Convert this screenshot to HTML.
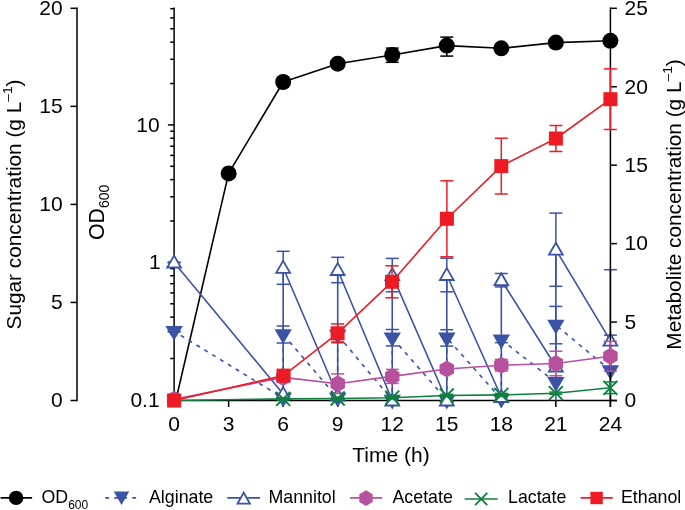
<!DOCTYPE html><html><head><meta charset="utf-8"><style>html,body{margin:0;padding:0;background:#fff;overflow:hidden}svg{display:block;will-change:transform}text{font-family:"Liberation Sans", sans-serif}</style></head><body>
<svg width="685" height="510" viewBox="0 0 685 510">
<rect width="685" height="510" fill="#fff"/>
<path d="M77 7.55V401.25" stroke="#000" stroke-width="1.5"/>
<path d="M70.5 400.5H77" stroke="#000" stroke-width="1.5"/>
<text x="62.6" y="407.3" font-size="21" text-anchor="end">0</text>
<path d="M70.5 302.45H77" stroke="#000" stroke-width="1.5"/>
<text x="62.6" y="309.25" font-size="21" text-anchor="end">5</text>
<path d="M70.5 204.4H77" stroke="#000" stroke-width="1.5"/>
<text x="62.6" y="211.2" font-size="21" text-anchor="end">10</text>
<path d="M70.5 106.35H77" stroke="#000" stroke-width="1.5"/>
<text x="62.6" y="113.15" font-size="21" text-anchor="end">15</text>
<path d="M70.5 8.3H77" stroke="#000" stroke-width="1.5"/>
<text x="62.6" y="15.1" font-size="21" text-anchor="end">20</text>
<path d="M174.1 7.55V401.25" stroke="#000" stroke-width="1.5"/>
<path d="M167.9 399.9H174.1" stroke="#000" stroke-width="1.5"/>
<path d="M170.2 358.51H174.1" stroke="#000" stroke-width="1.5"/>
<path d="M170.2 334.3H174.1" stroke="#000" stroke-width="1.5"/>
<path d="M170.2 317.12H174.1" stroke="#000" stroke-width="1.5"/>
<path d="M170.2 303.79H174.1" stroke="#000" stroke-width="1.5"/>
<path d="M170.2 292.9H174.1" stroke="#000" stroke-width="1.5"/>
<path d="M170.2 283.7H174.1" stroke="#000" stroke-width="1.5"/>
<path d="M170.2 275.73H174.1" stroke="#000" stroke-width="1.5"/>
<path d="M170.2 268.69H174.1" stroke="#000" stroke-width="1.5"/>
<path d="M167.9 262.4H174.1" stroke="#000" stroke-width="1.5"/>
<path d="M170.2 221.01H174.1" stroke="#000" stroke-width="1.5"/>
<path d="M170.2 196.8H174.1" stroke="#000" stroke-width="1.5"/>
<path d="M170.2 179.62H174.1" stroke="#000" stroke-width="1.5"/>
<path d="M170.2 166.29H174.1" stroke="#000" stroke-width="1.5"/>
<path d="M170.2 155.4H174.1" stroke="#000" stroke-width="1.5"/>
<path d="M170.2 146.2H174.1" stroke="#000" stroke-width="1.5"/>
<path d="M170.2 138.23H174.1" stroke="#000" stroke-width="1.5"/>
<path d="M170.2 131.19H174.1" stroke="#000" stroke-width="1.5"/>
<path d="M167.9 124.9H174.1" stroke="#000" stroke-width="1.5"/>
<path d="M170.2 83.51H174.1" stroke="#000" stroke-width="1.5"/>
<path d="M170.2 59.3H174.1" stroke="#000" stroke-width="1.5"/>
<path d="M170.2 42.12H174.1" stroke="#000" stroke-width="1.5"/>
<path d="M170.2 28.79H174.1" stroke="#000" stroke-width="1.5"/>
<path d="M170.2 17.9H174.1" stroke="#000" stroke-width="1.5"/>
<path d="M170.2 8.7H174.1" stroke="#000" stroke-width="1.5"/>
<text x="159.6" y="406.7" font-size="21" text-anchor="end">0.1</text>
<text x="160.6" y="269.2" font-size="21" text-anchor="end">1</text>
<text x="159.6" y="131.7" font-size="21" text-anchor="end">10</text>
<path d="M174.1 400.5H616.9" stroke="#000" stroke-width="1.5"/>
<path d="M174.1 400.5V407" stroke="#000" stroke-width="1.5"/>
<text x="174.1" y="431" font-size="21" text-anchor="middle">0</text>
<path d="M228.64 400.5V407" stroke="#000" stroke-width="1.5"/>
<text x="228.64" y="431" font-size="21" text-anchor="middle">3</text>
<path d="M283.17 400.5V407" stroke="#000" stroke-width="1.5"/>
<text x="283.17" y="431" font-size="21" text-anchor="middle">6</text>
<path d="M337.71 400.5V407" stroke="#000" stroke-width="1.5"/>
<text x="337.71" y="431" font-size="21" text-anchor="middle">9</text>
<path d="M392.25 400.5V407" stroke="#000" stroke-width="1.5"/>
<text x="392.25" y="431" font-size="21" text-anchor="middle">12</text>
<path d="M446.79 400.5V407" stroke="#000" stroke-width="1.5"/>
<text x="446.79" y="431" font-size="21" text-anchor="middle">15</text>
<path d="M501.32 400.5V407" stroke="#000" stroke-width="1.5"/>
<text x="501.32" y="431" font-size="21" text-anchor="middle">18</text>
<path d="M555.86 400.5V407" stroke="#000" stroke-width="1.5"/>
<text x="555.86" y="431" font-size="21" text-anchor="middle">21</text>
<path d="M610.4 400.5V407" stroke="#000" stroke-width="1.5"/>
<text x="610.4" y="431" font-size="21" text-anchor="middle">24</text>
<text x="391" y="462.3" font-size="21" text-anchor="middle">Time (h)</text>
<text transform="translate(20.8,204.5) rotate(-90)" font-size="20.8" text-anchor="middle">Sugar concentration (g L<tspan font-size="13.7" dy="-8.8">–1</tspan><tspan dy="8.8">)</tspan></text>
<text transform="translate(104.2,240) rotate(-90)" font-size="21.3">OD<tspan font-size="14" dy="5">600</tspan></text>
<text transform="translate(680.5,204.5) rotate(-90)" font-size="20.8" text-anchor="middle">Metabolite concentration (g L<tspan font-size="13.7" dy="-8.8">–1</tspan><tspan dy="8.8">)</tspan></text>
<polyline points="175.8,400.5 228.64,173.4 283.17,82 337.71,63.7 392.25,55 446.79,45.6 501.32,48.3 555.86,42.6 610.4,40.8" fill="none" stroke="#000" stroke-width="1.6" stroke-linejoin="round"/>
<path d="M392.25 48.1V62.3" stroke="#000" stroke-width="1.5"/><path d="M385.75 48.1H398.75" stroke="#000" stroke-width="1.5"/><path d="M385.75 62.3H398.75" stroke="#000" stroke-width="1.5"/>
<path d="M446.79 37.1V56.1" stroke="#000" stroke-width="1.5"/><path d="M440.29 37.1H453.29" stroke="#000" stroke-width="1.5"/><path d="M440.29 56.1H453.29" stroke="#000" stroke-width="1.5"/>
<circle cx="228.64" cy="173.4" r="8" fill="#000"/>
<circle cx="283.17" cy="82" r="8" fill="#000"/>
<circle cx="337.71" cy="63.7" r="8" fill="#000"/>
<circle cx="392.25" cy="55" r="8" fill="#000"/>
<circle cx="446.79" cy="45.6" r="8" fill="#000"/>
<circle cx="501.32" cy="48.3" r="8" fill="#000"/>
<circle cx="555.86" cy="42.6" r="8" fill="#000"/>
<circle cx="610.4" cy="40.8" r="8" fill="#000"/>
<polyline points="174.1,262.5 283.17,394 283.17,267.8 337.71,395.5 337.71,270 392.25,400.5 392.25,275.1 446.79,400.5 446.79,275 501.32,397 501.32,280.2 555.86,366.5 555.86,249.7 610.4,340.7" fill="none" stroke="#3a53a4" stroke-width="1.6" stroke-linejoin="round"/>
<polyline points="174.1,331.3 283.17,398 283.17,334.5 337.71,398 337.71,335 392.25,400 392.25,337.7 446.79,400 446.79,337.9 501.32,399 501.32,339.7 555.86,382.4 555.86,325.1 610.4,370.5" fill="none" stroke="#3a53a4" stroke-width="1.6" stroke-linejoin="round" stroke-dasharray="4 5.2" stroke-dashoffset="1.4"/>
<path d="M174.1 262.2V262.8" stroke="#3a53a4" stroke-width="1.5"/><path d="M167.6 262.2H180.6" stroke="#3a53a4" stroke-width="1.5"/><path d="M167.6 262.8H180.6" stroke="#3a53a4" stroke-width="1.5"/>
<path d="M283.17 251.3V284.3" stroke="#3a53a4" stroke-width="1.5"/><path d="M276.67 251.3H289.67" stroke="#3a53a4" stroke-width="1.5"/><path d="M276.67 284.3H289.67" stroke="#3a53a4" stroke-width="1.5"/>
<path d="M337.71 257.3V282.7" stroke="#3a53a4" stroke-width="1.5"/><path d="M331.21 257.3H344.21" stroke="#3a53a4" stroke-width="1.5"/><path d="M331.21 282.7H344.21" stroke="#3a53a4" stroke-width="1.5"/>
<path d="M392.25 258.4V291.8" stroke="#3a53a4" stroke-width="1.5"/><path d="M385.75 258.4H398.75" stroke="#3a53a4" stroke-width="1.5"/><path d="M385.75 291.8H398.75" stroke="#3a53a4" stroke-width="1.5"/>
<path d="M446.79 258.2V291.8" stroke="#3a53a4" stroke-width="1.5"/><path d="M440.29 258.2H453.29" stroke="#3a53a4" stroke-width="1.5"/><path d="M440.29 291.8H453.29" stroke="#3a53a4" stroke-width="1.5"/>
<path d="M501.32 273.5V286.9" stroke="#3a53a4" stroke-width="1.5"/><path d="M494.82 273.5H507.82" stroke="#3a53a4" stroke-width="1.5"/><path d="M494.82 286.9H507.82" stroke="#3a53a4" stroke-width="1.5"/>
<path d="M555.86 213.1V286.3" stroke="#3a53a4" stroke-width="1.5"/><path d="M549.36 213.1H562.36" stroke="#3a53a4" stroke-width="1.5"/><path d="M549.36 286.3H562.36" stroke="#3a53a4" stroke-width="1.5"/>
<path d="M610.4 269.7V400.5" stroke="#3a53a4" stroke-width="1.5"/><path d="M603.9 269.7H616.9" stroke="#3a53a4" stroke-width="1.5"/>
<path d="M174.1 331.1V332.1" stroke="#3a53a4" stroke-width="1.5"/><path d="M167.6 331.1H180.6" stroke="#3a53a4" stroke-width="1.5"/><path d="M167.6 332.1H180.6" stroke="#3a53a4" stroke-width="1.5"/>
<path d="M283.17 326V343" stroke="#3a53a4" stroke-width="1.5"/><path d="M276.67 326H289.67" stroke="#3a53a4" stroke-width="1.5"/><path d="M276.67 343H289.67" stroke="#3a53a4" stroke-width="1.5"/>
<path d="M337.71 328V342" stroke="#3a53a4" stroke-width="1.5"/><path d="M331.21 328H344.21" stroke="#3a53a4" stroke-width="1.5"/><path d="M331.21 342H344.21" stroke="#3a53a4" stroke-width="1.5"/>
<path d="M392.25 329.5V345.9" stroke="#3a53a4" stroke-width="1.5"/><path d="M385.75 329.5H398.75" stroke="#3a53a4" stroke-width="1.5"/><path d="M385.75 345.9H398.75" stroke="#3a53a4" stroke-width="1.5"/>
<path d="M446.79 329.7V346.1" stroke="#3a53a4" stroke-width="1.5"/><path d="M440.29 329.7H453.29" stroke="#3a53a4" stroke-width="1.5"/><path d="M440.29 346.1H453.29" stroke="#3a53a4" stroke-width="1.5"/>
<path d="M501.32 336.7V342.7" stroke="#3a53a4" stroke-width="1.5"/><path d="M494.82 336.7H507.82" stroke="#3a53a4" stroke-width="1.5"/><path d="M494.82 342.7H507.82" stroke="#3a53a4" stroke-width="1.5"/>
<path d="M555.86 306.4V343.8" stroke="#3a53a4" stroke-width="1.5"/><path d="M549.36 306.4H562.36" stroke="#3a53a4" stroke-width="1.5"/><path d="M549.36 343.8H562.36" stroke="#3a53a4" stroke-width="1.5"/>
<path d="M610.4 335.2V400.5" stroke="#3a53a4" stroke-width="1.5"/><path d="M603.9 335.2H616.9" stroke="#3a53a4" stroke-width="1.5"/>
<path d="M555.86 382V400.5" stroke="#3a53a4" stroke-width="1.5"/>
<polygon points="165.4,326 182.8,326 174.1,340.8" fill="#3a53a4"/>
<polygon points="274.47,392.7 291.87,392.7 283.17,407.5" fill="#3a53a4"/>
<polygon points="274.47,329.2 291.87,329.2 283.17,344" fill="#3a53a4"/>
<polygon points="329.01,392.7 346.41,392.7 337.71,407.5" fill="#3a53a4"/>
<polygon points="329.01,329.7 346.41,329.7 337.71,344.5" fill="#3a53a4"/>
<polygon points="383.55,394.7 400.95,394.7 392.25,409.5" fill="#3a53a4"/>
<polygon points="383.55,332.4 400.95,332.4 392.25,347.2" fill="#3a53a4"/>
<polygon points="438.09,394.7 455.49,394.7 446.79,409.5" fill="#3a53a4"/>
<polygon points="438.09,332.6 455.49,332.6 446.79,347.4" fill="#3a53a4"/>
<polygon points="492.62,393.7 510.02,393.7 501.32,408.5" fill="#3a53a4"/>
<polygon points="492.62,334.4 510.02,334.4 501.32,349.2" fill="#3a53a4"/>
<polygon points="547.16,377.1 564.56,377.1 555.86,391.9" fill="#3a53a4"/>
<polygon points="547.16,319.8 564.56,319.8 555.86,334.6" fill="#3a53a4"/>
<polygon points="601.7,365.2 619.1,365.2 610.4,380" fill="#3a53a4"/>
<polygon points="174.1,255.6 181,267.5 167.2,267.5" fill="#fff" stroke="#3a53a4" stroke-width="1.8"/>
<polygon points="283.17,387.1 290.07,399 276.27,399" fill="#fff" stroke="#3a53a4" stroke-width="1.8"/>
<polygon points="283.17,260.9 290.07,272.8 276.27,272.8" fill="#fff" stroke="#3a53a4" stroke-width="1.8"/>
<polygon points="337.71,388.6 344.61,400.5 330.81,400.5" fill="#fff" stroke="#3a53a4" stroke-width="1.8"/>
<polygon points="337.71,263.1 344.61,275 330.81,275" fill="#fff" stroke="#3a53a4" stroke-width="1.8"/>
<polygon points="392.25,393.6 399.15,405.5 385.35,405.5" fill="#fff" stroke="#3a53a4" stroke-width="1.8"/>
<polygon points="392.25,268.2 399.15,280.1 385.35,280.1" fill="#fff" stroke="#3a53a4" stroke-width="1.8"/>
<polygon points="446.79,393.6 453.69,405.5 439.89,405.5" fill="#fff" stroke="#3a53a4" stroke-width="1.8"/>
<polygon points="446.79,268.1 453.69,280 439.89,280" fill="#fff" stroke="#3a53a4" stroke-width="1.8"/>
<polygon points="501.32,390.1 508.22,402 494.42,402" fill="#fff" stroke="#3a53a4" stroke-width="1.8"/>
<polygon points="501.32,273.3 508.22,285.2 494.42,285.2" fill="#fff" stroke="#3a53a4" stroke-width="1.8"/>
<polygon points="555.86,359.6 562.76,371.5 548.96,371.5" fill="#fff" stroke="#3a53a4" stroke-width="1.8"/>
<polygon points="555.86,242.8 562.76,254.7 548.96,254.7" fill="#fff" stroke="#3a53a4" stroke-width="1.8"/>
<polygon points="610.4,333.8 617.3,345.7 603.5,345.7" fill="#fff" stroke="#3a53a4" stroke-width="1.8"/>
<path d="M610.4 7.55V407" stroke="#000" stroke-width="1.5"/>
<path d="M610.4 400.5H616.9" stroke="#000" stroke-width="1.5"/>
<text x="624.6" y="407.3" font-size="21">0</text>
<path d="M610.4 322.06H616.9" stroke="#000" stroke-width="1.5"/>
<text x="624.6" y="328.86" font-size="21">5</text>
<path d="M610.4 243.62H616.9" stroke="#000" stroke-width="1.5"/>
<text x="624.6" y="250.42" font-size="21">10</text>
<path d="M610.4 165.18H616.9" stroke="#000" stroke-width="1.5"/>
<text x="624.6" y="171.98" font-size="21">15</text>
<path d="M610.4 86.74H616.9" stroke="#000" stroke-width="1.5"/>
<text x="624.6" y="93.54" font-size="21">20</text>
<path d="M610.4 8.3H616.9" stroke="#000" stroke-width="1.5"/>
<text x="624.6" y="15.1" font-size="21">25</text>
<polyline points="174.1,399.2 283.17,377.4 337.71,383.7 392.25,376.4 446.79,369 501.32,365.2 555.86,363.5 610.4,356.3" fill="none" stroke="#b7509d" stroke-width="1.6" stroke-linejoin="round"/>
<path d="M337.71 373.9V393.5" stroke="#b7509d" stroke-width="1.5"/><path d="M331.21 373.9H344.21" stroke="#b7509d" stroke-width="1.5"/><path d="M331.21 393.5H344.21" stroke="#b7509d" stroke-width="1.5"/>
<path d="M392.25 369.4V383.4" stroke="#b7509d" stroke-width="1.5"/><path d="M385.75 369.4H398.75" stroke="#b7509d" stroke-width="1.5"/><path d="M385.75 383.4H398.75" stroke="#b7509d" stroke-width="1.5"/>
<path d="M446.79 365V373" stroke="#b7509d" stroke-width="1.5"/><path d="M440.29 365H453.29" stroke="#b7509d" stroke-width="1.5"/><path d="M440.29 373H453.29" stroke="#b7509d" stroke-width="1.5"/>
<path d="M501.32 359.4V371" stroke="#b7509d" stroke-width="1.5"/><path d="M494.82 359.4H507.82" stroke="#b7509d" stroke-width="1.5"/><path d="M494.82 371H507.82" stroke="#b7509d" stroke-width="1.5"/>
<path d="M555.86 351.2V375.8" stroke="#b7509d" stroke-width="1.5"/><path d="M549.36 351.2H562.36" stroke="#b7509d" stroke-width="1.5"/><path d="M549.36 375.8H562.36" stroke="#b7509d" stroke-width="1.5"/>
<path d="M610.4 341.3V371.3" stroke="#b7509d" stroke-width="1.5"/><path d="M603.9 341.3H616.9" stroke="#b7509d" stroke-width="1.5"/><path d="M603.9 371.3H616.9" stroke="#b7509d" stroke-width="1.5"/>
<polygon points="174.1,390.7 181.32,394.95 181.32,403.45 174.1,407.7 166.88,403.45 166.88,394.95" fill="#b7509d"/>
<polygon points="283.17,368.9 290.4,373.15 290.4,381.65 283.17,385.9 275.95,381.65 275.95,373.15" fill="#b7509d"/>
<polygon points="337.71,375.2 344.94,379.45 344.94,387.95 337.71,392.2 330.49,387.95 330.49,379.45" fill="#b7509d"/>
<polygon points="392.25,367.9 399.48,372.15 399.48,380.65 392.25,384.9 385.02,380.65 385.02,372.15" fill="#b7509d"/>
<polygon points="446.79,360.5 454.01,364.75 454.01,373.25 446.79,377.5 439.56,373.25 439.56,364.75" fill="#b7509d"/>
<polygon points="501.32,356.7 508.55,360.95 508.55,369.45 501.32,373.7 494.1,369.45 494.1,360.95" fill="#b7509d"/>
<polygon points="555.86,355 563.09,359.25 563.09,367.75 555.86,372 548.64,367.75 548.64,359.25" fill="#b7509d"/>
<polygon points="610.4,347.8 617.62,352.05 617.62,360.55 610.4,364.8 603.17,360.55 603.17,352.05" fill="#b7509d"/>
<polyline points="174.1,400.5 283.17,398.9 337.71,398.5 392.25,397.7 446.79,395.5 501.32,394.9 555.86,393.2 610.4,387.8" fill="none" stroke="#11803f" stroke-width="1.6" stroke-linejoin="round"/>
<path d="M283.17 397.7V400.1" stroke="#11803f" stroke-width="1.5"/><path d="M276.67 397.7H289.67" stroke="#11803f" stroke-width="1.5"/><path d="M276.67 400.1H289.67" stroke="#11803f" stroke-width="1.5"/>
<path d="M337.71 397.3V399.7" stroke="#11803f" stroke-width="1.5"/><path d="M331.21 397.3H344.21" stroke="#11803f" stroke-width="1.5"/><path d="M331.21 399.7H344.21" stroke="#11803f" stroke-width="1.5"/>
<path d="M392.25 396.5V398.9" stroke="#11803f" stroke-width="1.5"/><path d="M385.75 396.5H398.75" stroke="#11803f" stroke-width="1.5"/><path d="M385.75 398.9H398.75" stroke="#11803f" stroke-width="1.5"/>
<path d="M446.79 394.3V396.7" stroke="#11803f" stroke-width="1.5"/><path d="M440.29 394.3H453.29" stroke="#11803f" stroke-width="1.5"/><path d="M440.29 396.7H453.29" stroke="#11803f" stroke-width="1.5"/>
<path d="M501.32 393.4V396.4" stroke="#11803f" stroke-width="1.5"/><path d="M494.82 393.4H507.82" stroke="#11803f" stroke-width="1.5"/><path d="M494.82 396.4H507.82" stroke="#11803f" stroke-width="1.5"/>
<path d="M555.86 392.1V394.3" stroke="#11803f" stroke-width="1.5"/><path d="M549.36 392.1H562.36" stroke="#11803f" stroke-width="1.5"/><path d="M549.36 394.3H562.36" stroke="#11803f" stroke-width="1.5"/>
<path d="M610.4 382V393.6" stroke="#11803f" stroke-width="1.5"/><path d="M603.9 382H616.9" stroke="#11803f" stroke-width="1.5"/><path d="M603.9 393.6H616.9" stroke="#11803f" stroke-width="1.5"/>
<path d="M167.8 394.2L180.4 406.8M167.8 406.8L180.4 394.2" stroke="#11803f" stroke-width="1.9" fill="none"/>
<path d="M276.17 391.9L290.17 405.9M276.17 405.9L290.17 391.9" stroke="#11803f" stroke-width="1.9" fill="none"/>
<path d="M330.71 391.5L344.71 405.5M330.71 405.5L344.71 391.5" stroke="#11803f" stroke-width="1.9" fill="none"/>
<path d="M385.25 390.7L399.25 404.7M385.25 404.7L399.25 390.7" stroke="#11803f" stroke-width="1.9" fill="none"/>
<path d="M439.79 388.5L453.79 402.5M439.79 402.5L453.79 388.5" stroke="#11803f" stroke-width="1.9" fill="none"/>
<path d="M494.32 387.9L508.32 401.9M494.32 401.9L508.32 387.9" stroke="#11803f" stroke-width="1.9" fill="none"/>
<path d="M548.86 386.2L562.86 400.2M548.86 400.2L562.86 386.2" stroke="#11803f" stroke-width="1.9" fill="none"/>
<path d="M603.4 380.8L617.4 394.8M603.4 394.8L617.4 380.8" stroke="#11803f" stroke-width="1.9" fill="none"/>
<polyline points="174.1,400.5 283.5,375.6 337.6,333.3 392,281.8 446.9,218.8 501.3,166.1 555.9,138.5 610.4,99.2" fill="none" stroke="#ed1c24" stroke-width="1.6" stroke-linejoin="round"/>
<path d="M283.5 372.6V378.6" stroke="#ed1c24" stroke-width="1.5"/><path d="M277 372.6H290" stroke="#ed1c24" stroke-width="1.5"/><path d="M277 378.6H290" stroke="#ed1c24" stroke-width="1.5"/>
<path d="M337.6 323.9V342.7" stroke="#ed1c24" stroke-width="1.5"/><path d="M331.1 323.9H344.1" stroke="#ed1c24" stroke-width="1.5"/><path d="M331.1 342.7H344.1" stroke="#ed1c24" stroke-width="1.5"/>
<path d="M392 265.8V297.8" stroke="#ed1c24" stroke-width="1.5"/><path d="M385.5 265.8H398.5" stroke="#ed1c24" stroke-width="1.5"/><path d="M385.5 297.8H398.5" stroke="#ed1c24" stroke-width="1.5"/>
<path d="M446.9 180.8V256.8" stroke="#ed1c24" stroke-width="1.5"/><path d="M440.4 180.8H453.4" stroke="#ed1c24" stroke-width="1.5"/><path d="M440.4 256.8H453.4" stroke="#ed1c24" stroke-width="1.5"/>
<path d="M501.3 138.2V194" stroke="#ed1c24" stroke-width="1.5"/><path d="M494.8 138.2H507.8" stroke="#ed1c24" stroke-width="1.5"/><path d="M494.8 194H507.8" stroke="#ed1c24" stroke-width="1.5"/>
<path d="M555.9 125.5V151.5" stroke="#ed1c24" stroke-width="1.5"/><path d="M549.4 125.5H562.4" stroke="#ed1c24" stroke-width="1.5"/><path d="M549.4 151.5H562.4" stroke="#ed1c24" stroke-width="1.5"/>
<path d="M610.4 68.9V129.5" stroke="#ed1c24" stroke-width="1.5"/><path d="M603.9 68.9H616.9" stroke="#ed1c24" stroke-width="1.5"/><path d="M603.9 129.5H616.9" stroke="#ed1c24" stroke-width="1.5"/>
<rect x="167.1" y="393.5" width="14" height="14" fill="#ed1c24"/>
<rect x="276.5" y="368.6" width="14" height="14" fill="#ed1c24"/>
<rect x="330.6" y="326.3" width="14" height="14" fill="#ed1c24"/>
<rect x="385" y="274.8" width="14" height="14" fill="#ed1c24"/>
<rect x="439.9" y="211.8" width="14" height="14" fill="#ed1c24"/>
<rect x="494.3" y="159.1" width="14" height="14" fill="#ed1c24"/>
<rect x="548.9" y="131.5" width="14" height="14" fill="#ed1c24"/>
<rect x="603.4" y="92.2" width="14" height="14" fill="#ed1c24"/>
<path d="M0.6 497.9H32.1" stroke="#000" stroke-width="1.6"/>
<circle cx="16.1" cy="497.9" r="7.2" fill="#000"/>
<text x="41.5" y="503.4" font-size="17.8">OD<tspan font-size="12" dy="5.8">600</tspan></text>
<path d="M105.3 497.9H137" stroke="#3a53a4" stroke-width="1.6" stroke-dasharray="3.8 5.2"/>
<polygon points="113.8,491.4 129.2,491.4 121.5,505.1" fill="#3a53a4"/>
<text x="149" y="503.4" font-size="17.8">Alginate</text>
<path d="M227.3 497.9H260" stroke="#3a53a4" stroke-width="1.6"/>
<polygon points="243.7,492.6 249.9,503.7 237.5,503.7" fill="#fff" stroke="#3a53a4" stroke-width="1.8"/>
<text x="268.5" y="503.4" font-size="17.8">Mannitol</text>
<path d="M350 497.9H382.1" stroke="#b7509d" stroke-width="1.6"/>
<polygon points="366,490.25 372.67,494.18 372.67,502.03 366,505.95 359.33,502.03 359.33,494.18" fill="#b7509d"/>
<text x="392.5" y="503.4" font-size="17.8">Acetate</text>
<path d="M464.6 499H497.7" stroke="#11803f" stroke-width="1.6"/>
<path d="M475.1 492.9L487.3 505.1M475.1 505.1L487.3 492.9" stroke="#11803f" stroke-width="1.9" fill="none"/>
<text x="508" y="503.4" font-size="17.8">Lactate</text>
<path d="M580.6 497.9H612.7" stroke="#ed1c24" stroke-width="1.6"/>
<rect x="590.4" y="491.8" width="12.4" height="12.4" fill="#ed1c24"/>
<text x="621" y="503.4" font-size="17.8">Ethanol</text>
</svg></body></html>
